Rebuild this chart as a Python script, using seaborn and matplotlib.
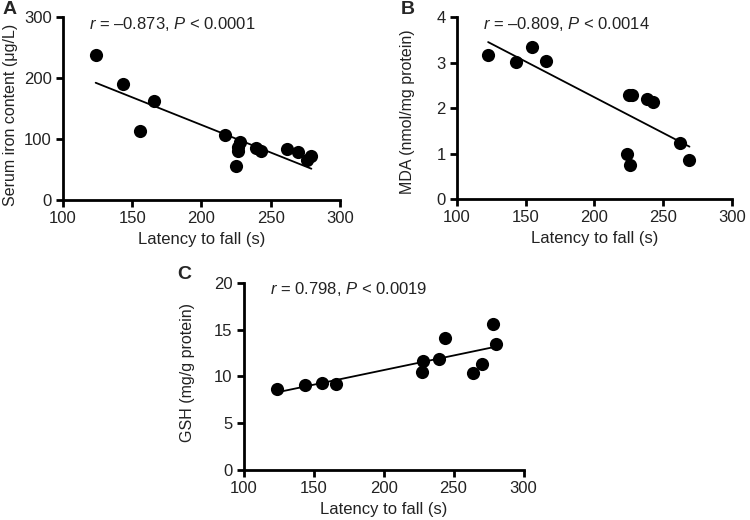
import numpy as np
import pandas as pd
import matplotlib
matplotlib.use('Agg')
import matplotlib.pyplot as plt
import seaborn as sns

# panel A: serum iron vs latency
latency_a = [123.6, 143.6, 155.9, 165.8, 217.0, 227.8, 226.6, 226.2, 224.7, 239.4, 243.0, 262.2, 269.5, 276.4, 279.5]
iron = [238.4, 191.0, 113.0, 162.6, 106.6, 95.6, 87.0, 80.0, 55.7, 86.3, 80.9, 83.6, 79.2, 65.6, 72.1]

# panel B: MDA vs latency
latency_b = [122.8, 142.8, 154.9, 165.1, 224.8, 227.5, 238.2, 242.5, 223.9, 226.1, 261.9, 269.1]
mda = [3.175, 3.007, 3.343, 3.04, 2.29, 2.285, 2.21, 2.14, 0.99, 0.75, 1.224, 0.857]

# panel C: GSH vs latency
latency_c = [123.8, 143.6, 156.0, 166.0, 228.0, 227.1, 239.5, 243.6, 263.8, 270.5, 278.1, 280.5]
gsh = [8.68, 9.04, 9.29, 9.18, 11.68, 10.53, 11.86, 14.07, 10.36, 11.32, 15.57, 13.47]

sns.set_style('ticks')
plt.rcParams['font.family'] = ['Liberation Sans', 'DejaVu Sans']
plt.rcParams['mathtext.fontset'] = 'custom'
plt.rcParams['mathtext.rm'] = 'Liberation Sans'
plt.rcParams['mathtext.it'] = 'Liberation Sans:italic'

fig = plt.figure(figsize=(7.5, 5.2), dpi=100)

# letter, axes box, x, y, y label, y ticks, stats text, y-label position (axes fraction)
panels = [
    ('A', [0.084, 0.615, 0.369, 0.352], latency_a, iron, 'Serum iron content (μg/L)',
     [0, 100, 200, 300], '$\\it{r}$ = –0.873, $\\it{P}$ < 0.0001', (-0.162, 0.465)),
    ('B', [0.609, 0.617, 0.367, 0.350], latency_b, mda, 'MDA (nmol/mg protein)',
     [0, 1, 2, 3, 4], '$\\it{r}$ = –0.809, $\\it{P}$ < 0.0014', (-0.153, 0.48)),
    ('C', [0.325, 0.096, 0.373, 0.360], latency_c, gsh, 'GSH (mg/g protein)',
     [0, 5, 10, 15, 20], '$\\it{r}$ = 0.798, $\\it{P}$ < 0.0019', (-0.175, 0.52)),
]

for letter, pos, xs, ys, ylab, yticks, note, ylxy in panels:
    ax = fig.add_axes(pos)
    df = pd.DataFrame({'x': xs, 'y': ys})
    sns.regplot(x='x', y='y', data=df, ax=ax, ci=None, color='black',
                scatter_kws={'s': 90, 'alpha': 1, 'linewidths': 0, 'clip_on': False},
                line_kws={'lw': 1.3})
    ax.set_xlim(100, 300)
    ax.set_ylim(yticks[0], yticks[-1])
    ax.set_xticks([100, 150, 200, 250, 300])
    ax.set_yticks(yticks)
    ax.set_xlabel('Latency to fall (s)', fontsize=12, labelpad=4, color='#222222')
    ax.set_ylabel(ylab, fontsize=11.5, color='#222222')
    ax.yaxis.set_label_coords(*ylxy)
    ax.tick_params(labelsize=12, width=2, length=5, pad=3, color='black', labelcolor='#222222')
    for s in ['top', 'right']:
        ax.spines[s].set_visible(False)
    for s in ['left', 'bottom']:
        ax.spines[s].set_linewidth(2)
        ax.spines[s].set_color('black')
    ax.text(0.095, 0.965, note, transform=ax.transAxes, fontsize=12, va='center', ha='left',
            color='#222222')

fig.text(0.003, 0.999, 'A', fontsize=14, fontweight='bold', va='top', ha='left')
fig.text(0.535, 0.999, 'B', fontsize=14, fontweight='bold', va='top', ha='left')
fig.text(0.236, 0.488, 'C', fontsize=14, fontweight='bold', va='top', ha='left')

fig.savefig('out.png', dpi=100)
